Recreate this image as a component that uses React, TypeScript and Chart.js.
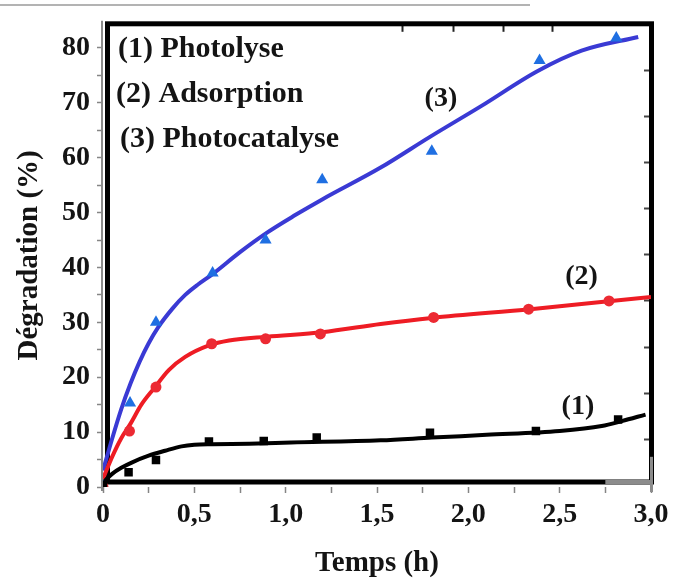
import React, { useEffect, useRef } from 'react';
import { Chart, registerables } from 'chart.js';

Chart.register(...registerables);

// ---- Measured data (Temps in h, Dégradation in %) ----
const TIME_PHOTOLYSE = [0, 0.14, 0.29, 0.58, 0.88, 1.17, 1.79, 2.37, 2.82];
const VALUES_PHOTOLYSE = [0.3, 2.7, 4.9, 8.3, 8.4, 9.0, 9.9, 10.2, 12.3];

const TIME_ADSORPTION = [0, 0.145, 0.29, 0.595, 0.89, 1.19, 1.81, 2.33, 2.77];
const VALUES_ADSORPTION = [0, 10.2, 18.2, 26.1, 27.0, 27.9, 30.9, 32.4, 33.9];

const TIME_PHOTOCATALYSE = [0, 0.148, 0.29, 0.6, 0.89, 1.2, 1.8, 2.39, 2.81];
const VALUES_PHOTOCATALYSE = [0, 15.3, 30, 39, 45, 56, 61.2, 77.7, 81.8];

// fitted curves
const FIT_PHOTOLYSE_T = [0, 0.05, 0.1, 0.16, 0.25, 0.34, 0.43, 0.5, 0.6, 0.8, 1.03, 1.52, 1.8, 2.1, 2.5, 2.73, 2.84, 2.97];
const FIT_PHOTOLYSE_V = [0.8, 2.4, 3.5, 4.5, 5.7, 6.6, 7.4, 7.7, 7.8, 7.9, 8.1, 8.5, 9.0, 9.5, 10.2, 11.1, 12.0, 13.2];

const FIT_ADSORPTION_T = [0, 0.05, 0.1, 0.15, 0.21, 0.28, 0.36, 0.45, 0.58, 0.69, 0.9, 1.2, 1.52, 1.8, 2.34, 2.7, 3.0];
const FIT_ADSORPTION_V = [1.5, 5.5, 8.9, 11.5, 15, 18, 21.3, 23.7, 25.8, 26.7, 27.4, 28.2, 29.7, 30.8, 32.4, 33.6, 34.6];

const FIT_PHOTOCATALYSE_T = [0, 0.05, 0.1, 0.15, 0.2, 0.25, 0.3, 0.38, 0.45, 0.52, 0.6, 0.75, 0.9, 1.05, 1.2, 1.52, 1.79, 2.07, 2.38, 2.62, 2.93];
const FIT_PHOTOCATALYSE_V = [3, 8.8, 14.2, 18.8, 22.8, 26.2, 29, 32.5, 35, 36.9, 38.8, 42.8, 46.4, 49.5, 52.4, 58.2, 63.8, 69.4, 75.8, 79.5, 82];

// ---- Axes / ticks ----
const X_MIN = 0;
const X_MAX = 3;
const Y_MIN = 0;
const Y_MAX = 84.4;
const X_TICKS = [0, 0.25, 0.5, 0.75, 1, 1.25, 1.5, 1.75, 2, 2.25, 2.5, 2.75, 3];
const X_LABEL_VALUES = [0, 0.5, 1, 1.5, 2, 2.5, 3];
const X_LABEL_TEXTS = ['0', '0,5', '1,0', '1,5', '2,0', '2,5', '3,0'];
const Y_TICKS = [0, 5, 10, 15, 20, 25, 30, 35, 40, 45, 50, 55, 60, 65, 70, 75, 80];
const Y_LABEL_VALUES = [0, 10, 20, 30, 40, 50, 60, 70, 80];
const Y_LABEL_TEXTS = ['0', '10', '20', '30', '40', '50', '60', '70', '80'];
const TOP_TICKS = [1.64, 1.92, 2.19, 2.46];
const RIGHT_TICKS = [8.7, 17.1, 25.5, 33.9, 42.3, 50.7, 59.1, 67.5, 75.9];

// ---- Texts ----
const X_TITLE = 'Temps (h)';
const Y_TITLE = 'Dégradation (%)';
const LEGEND_TEXTS = ['(1) Photolyse', '(2) Adsorption', '(3) Photocatalyse'];
const CURVE_LABELS = ['(1)', '(2)', '(3)'];
const CURVE_LABEL_X = [2.6, 2.62, 1.85];
const CURVE_LABEL_Y = [14.6, 38.3, 70.8];

const SERIF = "'Liberation Serif', 'Times New Roman', serif";
const TEXT_COLOR = '#141414';

const pts = (xs: number[], ys: number[]) => xs.map((x, i) => ({ x, y: ys[i] }));

const decorPlugin = {
  id: 'decor',
  beforeDatasetsDraw(chart: any) {
    const { ctx, chartArea } = chart;
    const { left, top, right, bottom } = chartArea;
    const xs = chart.scales.x;
    const ys = chart.scales.y;
    ctx.save();
    // faint page rule at the very top
    ctx.strokeStyle = '#9a9a9a';
    ctx.lineWidth = 1.5;
    ctx.beginPath();
    ctx.moveTo(0, 5);
    ctx.lineTo(530, 5);
    ctx.stroke();
    // thin grey axis line on the left
    ctx.strokeStyle = '#8a8a8a';
    ctx.lineWidth = 2;
    ctx.beginPath();
    ctx.moveTo(left - 1, top - 3);
    ctx.lineTo(left - 1, bottom + 4);
    ctx.stroke();
    // thick black frame
    ctx.strokeStyle = '#000';
    ctx.lineWidth = 5;
    ctx.lineJoin = 'miter';
    ctx.strokeRect(left + 4.5, top, right + 0.5 - (left + 4.5), bottom - 5 - top);
    // grey patches at bottom-right corner
    ctx.strokeStyle = '#8c8c8c';
    ctx.lineWidth = 4;
    ctx.beginPath();
    ctx.moveTo(xs.getPixelForValue(2.75), bottom - 5);
    ctx.lineTo(right + 2, bottom - 5);
    ctx.stroke();
    ctx.lineWidth = 3;
    ctx.beginPath();
    ctx.moveTo(right + 0.5, ys.getPixelForValue(5.5));
    ctx.lineTo(right + 0.5, bottom + 5);
    ctx.stroke();
    ctx.restore();
  },
  afterDatasetsDraw(chart: any) {
    const { ctx, chartArea } = chart;
    const xs = chart.scales.x;
    const ys = chart.scales.y;
    ctx.save();
    ctx.fillStyle = TEXT_COLOR;
    ctx.textBaseline = 'middle';
    ctx.textAlign = 'left';
    ctx.font = `bold 30px ${SERIF}`;
    const offX = [15, 13, 17];
    LEGEND_TEXTS.forEach((t, i) => {
      ctx.fillText(t, chartArea.left + offX[i], chartArea.top + 25 + i * 45);
    });
    ctx.textAlign = 'center';
    ctx.font = `bold 28px ${SERIF}`;
    CURVE_LABELS.forEach((t, i) => {
      ctx.fillText(t, xs.getPixelForValue(CURVE_LABEL_X[i]), ys.getPixelForValue(CURVE_LABEL_Y[i]));
    });
    ctx.restore();
  },
};

export default function App() {
  const ref = useRef<HTMLCanvasElement | null>(null);

  useEffect(() => {
    document.body.style.margin = '0';
    const canvas = ref.current;
    if (!canvas) return;

    const tickFont = { family: SERIF, size: 28, weight: 'bold' as const };
    const titleFont = { family: SERIF, size: 29, weight: 'bold' as const };

    const chart = new Chart(canvas, {
      type: 'scatter',
      data: {
        datasets: [
          {
            label: 'Photolyse points',
            data: pts(TIME_PHOTOLYSE, VALUES_PHOTOLYSE),
            pointStyle: 'rect',
            pointRadius: 6,
            backgroundColor: '#000',
            borderWidth: 0,
            xAxisID: 'x',
            yAxisID: 'y',
          },
          {
            label: 'Adsorption points',
            data: pts(TIME_ADSORPTION, VALUES_ADSORPTION),
            pointStyle: 'circle',
            pointRadius: 5.5,
            backgroundColor: '#ec2a33',
            borderWidth: 0,
            xAxisID: 'x',
            yAxisID: 'y',
          },
          {
            label: 'Photocatalyse points',
            data: pts(TIME_PHOTOCATALYSE, VALUES_PHOTOCATALYSE),
            pointStyle: 'triangle',
            pointRadius: 7,
            backgroundColor: '#1f6fe2',
            borderWidth: 0,
            xAxisID: 'x',
            yAxisID: 'y',
          },
          {
            label: '(1) Photolyse',
            data: pts(FIT_PHOTOLYSE_T, FIT_PHOTOLYSE_V),
            showLine: true,
            pointRadius: 0,
            borderColor: '#000',
            borderWidth: 4,
            cubicInterpolationMode: 'monotone',
            xAxisID: 'x',
            yAxisID: 'y',
          },
          {
            label: '(2) Adsorption',
            data: pts(FIT_ADSORPTION_T, FIT_ADSORPTION_V),
            showLine: true,
            pointRadius: 0,
            borderColor: '#ee1c24',
            borderWidth: 4,
            cubicInterpolationMode: 'monotone',
            xAxisID: 'x',
            yAxisID: 'y',
          },
          {
            label: '(3) Photocatalyse',
            data: pts(FIT_PHOTOCATALYSE_T, FIT_PHOTOCATALYSE_V),
            showLine: true,
            pointRadius: 0,
            borderColor: '#3a3ad4',
            borderWidth: 4,
            cubicInterpolationMode: 'monotone',
            xAxisID: 'x',
            yAxisID: 'y',
          },
        ],
      },
      options: {
        animation: false,
        responsive: false,
        devicePixelRatio: 1,
        layout: { padding: 0 },
        plugins: {
          legend: { display: false },
          tooltip: { enabled: false },
        },
        scales: {
          x: {
            type: 'linear',
            axis: 'x',
            position: 'bottom',
            min: X_MIN,
            max: X_MAX,
            afterBuildTicks: (s: any) => {
              s.ticks = X_TICKS.map((v) => ({ value: v }));
            },
            afterFit: (s: any) => {
              s.height = 94;
            },
            ticks: {
              autoSkip: false,
              maxRotation: 0,
              padding: 5,
              color: TEXT_COLOR,
              font: tickFont,
              callback: (v: any) => {
                const i = X_LABEL_VALUES.findIndex((u) => Math.abs(u - Number(v)) < 1e-6);
                return i >= 0 ? X_LABEL_TEXTS[i] : '';
              },
            },
            grid: {
              drawOnChartArea: false,
              drawTicks: true,
              tickLength: 6,
              tickColor: '#858585',
              tickWidth: 1.5,
            },
            border: { display: false },
            title: {
              display: true,
              text: X_TITLE,
              color: TEXT_COLOR,
              font: titleFont,
              padding: { top: 0, bottom: 0 },
            },
          },
          y: {
            type: 'linear',
            axis: 'y',
            position: 'left',
            min: Y_MIN,
            max: Y_MAX,
            afterBuildTicks: (s: any) => {
              s.ticks = Y_TICKS.map((v) => ({ value: v }));
            },
            afterFit: (s: any) => {
              s.width = 103;
            },
            ticks: {
              autoSkip: false,
              padding: 7,
              color: TEXT_COLOR,
              font: tickFont,
              callback: (v: any) => {
                const i = Y_LABEL_VALUES.findIndex((u) => Math.abs(u - Number(v)) < 1e-6);
                return i >= 0 ? Y_LABEL_TEXTS[i] : '';
              },
            },
            grid: {
              drawOnChartArea: false,
              drawTicks: true,
              tickLength: 6,
              tickColor: '#858585',
              tickWidth: 1.5,
            },
            border: { display: false },
            title: {
              display: true,
              text: Y_TITLE,
              color: TEXT_COLOR,
              font: titleFont,
              padding: { top: 12, bottom: 0 },
            },
          },
          xTop: {
            type: 'linear',
            axis: 'x',
            position: 'top',
            min: X_MIN,
            max: X_MAX,
            afterBuildTicks: (s: any) => {
              s.ticks = TOP_TICKS.map((v) => ({ value: v }));
            },
            afterFit: (s: any) => {
              s.height = 18;
            },
            ticks: { callback: () => '', autoSkip: false },
            grid: {
              drawOnChartArea: false,
              drawTicks: true,
              tickLength: -8,
              tickColor: '#222',
              tickWidth: 2,
            },
            border: { display: false },
          },
          yRight: {
            type: 'linear',
            axis: 'y',
            position: 'right',
            min: Y_MIN,
            max: Y_MAX,
            afterBuildTicks: (s: any) => {
              s.ticks = RIGHT_TICKS.map((v) => ({ value: v }));
            },
            afterFit: (s: any) => {
              s.width = 24;
            },
            ticks: { callback: () => '', autoSkip: false },
            grid: {
              drawOnChartArea: false,
              drawTicks: true,
              tickLength: -7,
              tickColor: '#444',
              tickWidth: 2,
            },
            border: { display: false },
          },
        },
      },
      plugins: [decorPlugin],
    } as any);

    return () => {
      chart.destroy();
    };
  }, []);

  return (
    <div style={{ width: 675, height: 581, overflow: 'hidden', background: '#fff' }}>
      <canvas ref={ref} width={675} height={581} style={{ display: 'block' }} />
    </div>
  );
}
